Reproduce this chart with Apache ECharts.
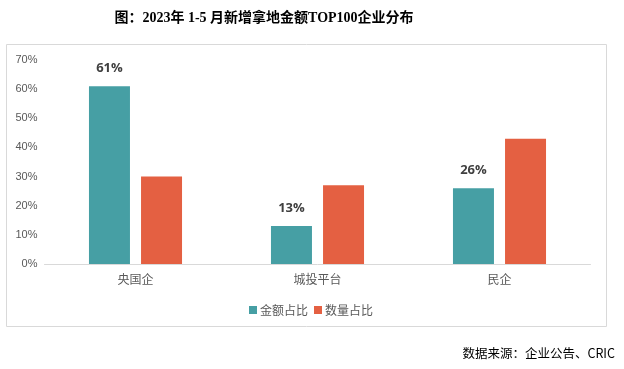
<!DOCTYPE html>
<html>
<head>
<meta charset="utf-8">
<script src="https://cdn.jsdelivr.net/npm/echarts@6/dist/echarts.min.js"></script>
<style>html,body{margin:0;padding:0;background:#fff;}#c{width:624px;height:369px;}</style>
</head>
<body>
<div id="c"></div>
<script>
const categories = ['央国企', '城投平台', '民企'];
const amountShare = [61, 13, 26];
const countShare = [30, 27, 43];
const seriesNames = ['金额占比', '数量占比'];
const titleText = '图：2023年 1-5 月新增拿地金额TOP100企业分布';
const sourceText = '数据来源：企业公告、CRIC';

const chart = echarts.init(document.getElementById('c'));
chart.setOption({
  animation: false,
  title: {
    text: titleText,
    left: 259, top: 6, textAlign: 'center',
    textStyle: { fontFamily: '"Liberation Serif", "Noto Sans CJK SC"', fontWeight: 'bold', fontSize: 14, color: '#000' }
  },
  graphic: [
    { type: 'rect', shape: { x: 6.5, y: 44.5, width: 600, height: 282 }, style: { fill: 'none', stroke: '#d9d9d9', lineWidth: 1 }, z: -1 },
    { type: 'text', right: 9, top: 347, style: { text: sourceText, font: '12.5px "Noto Sans CJK SC"', fill: '#000' } }
  ],
  legend: {
    data: seriesNames, top: 299, left: 244,
    itemWidth: 8, itemHeight: 8, itemGap: 6,
    icon: 'rect',
    textStyle: { fontFamily: 'Noto Sans CJK SC', fontSize: 12, color: '#595959', padding: [0, 0, 0, -2] }
  },
  grid: { left: 44.5, right: 33.5, top: 60, bottom: 105 },
  xAxis: {
    type: 'category', data: categories,
    axisLine: { lineStyle: { color: '#d9d9d9' } },
    axisTick: { show: false },
    axisLabel: { fontFamily: 'Noto Sans CJK SC', fontSize: 12, color: '#595959', margin: 9 }
  },
  yAxis: {
    type: 'value', min: 0, max: 70, interval: 10,
    axisLine: { show: false }, axisTick: { show: false },
    splitLine: { show: false },
    axisLabel: { formatter: '{value}%', fontFamily: 'Liberation Sans', fontSize: 11, color: '#595959', margin: 7 }
  },
  series: [
    {
      name: seriesNames[0], type: 'bar', data: amountShare,
      barWidth: 41, barGap: '27%',
      itemStyle: { color: '#469fa4' },
      label: { show: true, position: 'top', distance: 11, formatter: '{c}%', fontFamily: 'Open Sans', fontWeight: 'bold', fontSize: 13, color: '#404040' }
    },
    {
      name: seriesNames[1], type: 'bar', data: countShare,
      barWidth: 41,
      itemStyle: { color: '#e46042' }
    }
  ]
});
</script>
</body>
</html>
